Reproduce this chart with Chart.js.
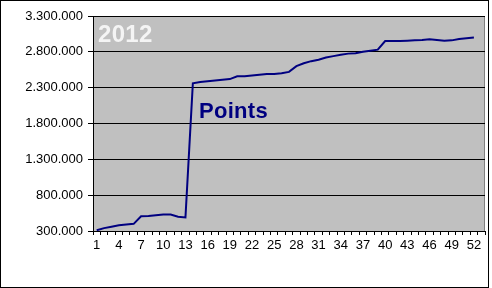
<!DOCTYPE html>
<html>
<head>
<meta charset="utf-8">
<script src="https://cdn.jsdelivr.net/npm/chart.js@4/dist/chart.umd.min.js"></script>
<style>
  html, body { margin: 0; padding: 0; background: #fff; }
  #wrap { position: relative; width: 492px; height: 288px; }
  canvas { display: block; }
  .ann { position: absolute; font-family: 'Liberation Sans', Arial, sans-serif; font-weight: bold; white-space: nowrap; line-height: 1; }
  #yr { left: 98px; top: 22px; font-size: 24px; color: #f4f4f4; letter-spacing: 0.3px; }
  #pts { left: 199px; top: 100px; font-size: 22px; color: #000080; letter-spacing: 0.3px; }
</style>
</head>
<body>
<div id="wrap">
  <canvas id="c" width="492" height="288"></canvas>
  <div class="ann" id="yr">2012</div>
  <div class="ann" id="pts">Points</div>
</div>
<script>
const weeks = ['1','2','3','4','5','6','7','8','9','10','11','12','13','14','15','16','17','18','19','20',
  '21','22','23','24','25','26','27','28','29','30','31','32','33','34','35','36','37','38','39','40',
  '41','42','43','44','45','46','47','48','49','50','51','52','53'];
const points = [310000, 340000, 360000, 380000, 390000, 400000, 505000, 510000, 520000, 530000,
  530000, 500000, 490000, 2360000, 2380000, 2390000, 2400000, 2410000, 2420000, 2460000,
  2460000, 2470000, 2480000, 2490000, 2490000, 2500000, 2520000, 2600000, 2640000, 2670000,
  2690000, 2720000, 2740000, 2760000, 2775000, 2780000, 2800000, 2815000, 2830000, 2950000,
  2950000, 2950000, 2955000, 2960000, 2965000, 2975000, 2965000, 2955000, 2960000, 2980000,
  2990000, 3000000];
const yMin = 300000, yMax = 3300000, yStep = 500000;

const fmt = v => String(v).replace(/\B(?=(\d{3})+(?!\d))/g, '.');

const bgPlugin = {
  id: 'bg',
  beforeDraw(chart) {
    const { ctx, chartArea: a } = chart;
    ctx.save();
    ctx.fillStyle = '#fff';
    ctx.fillRect(0, 0, chart.width, chart.height);
    ctx.fillStyle = '#c0c0c0';
    ctx.fillRect(a.left, a.top, a.right - a.left, a.bottom - a.top);
    ctx.strokeStyle = '#808080';
    ctx.lineWidth = 1;
    ctx.strokeRect(a.left + 0.5, a.top + 0.5, a.right - a.left - 1, a.bottom - a.top);
    ctx.restore();
  },
  afterDraw(chart) {
    const { ctx } = chart;
    ctx.save();
    ctx.strokeStyle = '#000';
    ctx.lineWidth = 1;
    ctx.strokeRect(0.5, 0.5, 488, 287);
    ctx.restore();
  }
};

new Chart(document.getElementById('c'), {
  type: 'line',
  data: {
    labels: weeks,
    datasets: [{
      data: points,
      borderColor: '#000080',
      borderWidth: 2,
      pointRadius: 0,
      tension: 0,
      fill: false
    }]
  },
  options: {
    responsive: false,
    animation: false,
    devicePixelRatio: 1,
    layout: { padding: { top: 16, right: 7, left: 0, bottom: 0 } },
    plugins: { legend: { display: false }, tooltip: { enabled: false } },
    scales: {
      x: {
        type: 'category',
        offset: true,
        grid: { display: true, drawOnChartArea: false, drawTicks: true, tickLength: 4, offset: true, color: '#000' },
        border: { display: true, color: '#000', width: 1 },
        ticks: {
          autoSkip: false, maxRotation: 0, minRotation: 0, padding: 3,
          color: '#000',
          font: { family: "'Liberation Sans', Arial, sans-serif", size: 13 },
          callback: function(val, idx) { return idx % 3 === 0 ? weeks[idx] : ''; }
        },
        afterFit(scale) { scale.height = 57; }
      },
      y: {
        min: yMin, max: yMax,
        grid: { color: '#000', lineWidth: 1, drawTicks: true, tickLength: 5 },
        border: { display: true, color: '#000', width: 1 },
        ticks: {
          stepSize: yStep, padding: 5, color: '#000',
          font: { family: "'Liberation Sans', Arial, sans-serif", size: 13 },
          callback: v => fmt(v)
        },
        afterFit(scale) { scale.width = 93; }
      }
    }
  },
  plugins: [bgPlugin]
});
</script>
</body>
</html>
